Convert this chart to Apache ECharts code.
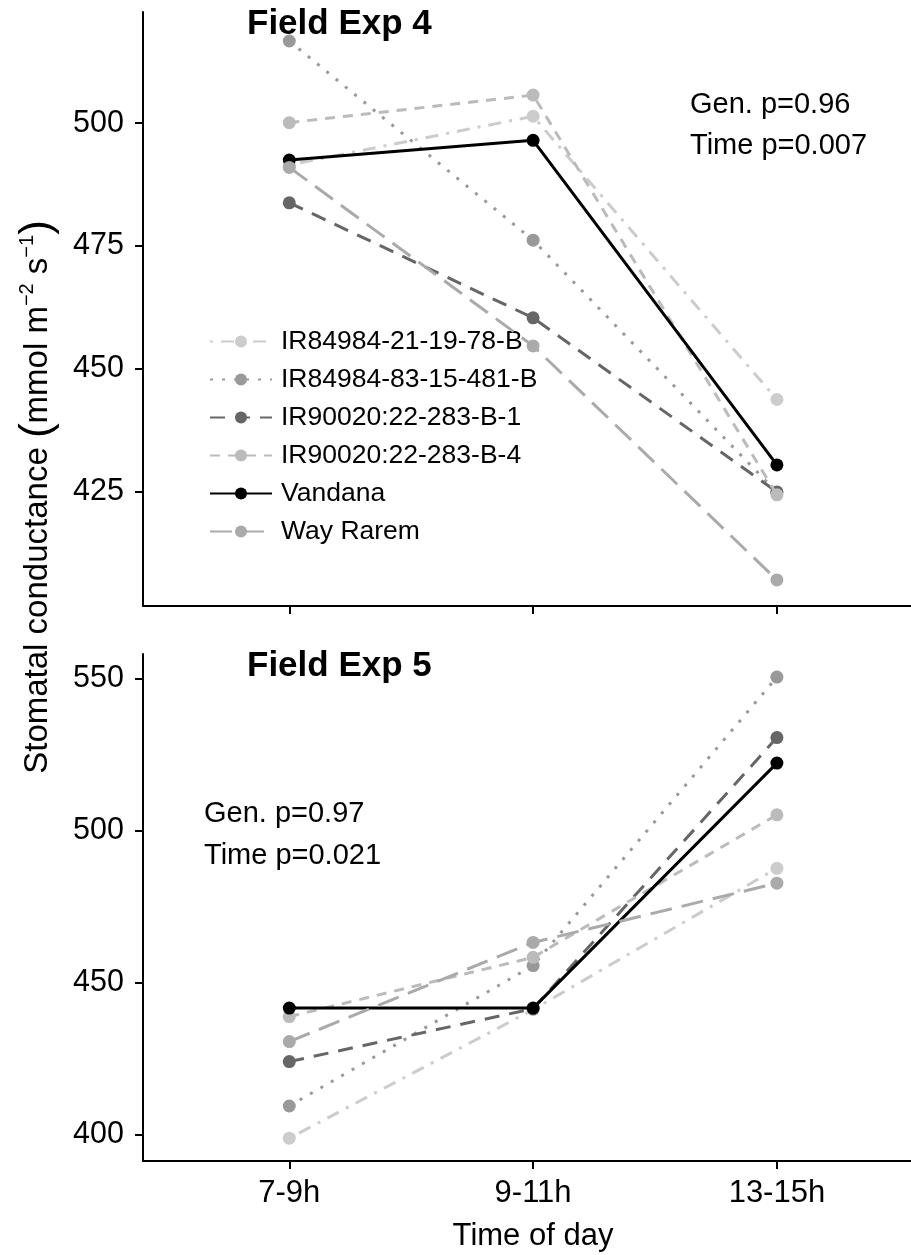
<!DOCTYPE html>
<html><head><meta charset="utf-8">
<script src="https://cdn.jsdelivr.net/npm/echarts@6/dist/echarts.min.js"></script>
<style>html,body{margin:0;padding:0;background:#fff}#c{width:911px;height:1255px}</style>
</head><body><div id="c"></div><script>
// ---- data ----
const timeLabels = ['7-9h', '9-11h', '13-15h'];
const genotypes = ['IR84984-21-19-78-B', 'IR84984-83-15-481-B', 'IR90020:22-283-B-1', 'IR90020:22-283-B-4', 'Vandana', 'Way Rarem'];
// Field Exp 4
const exp4_IR84984_21 = [491.5, 501.4, 443.8];
const exp4_IR84984_83 = [516.7, 476.2, 424.9];
const exp4_IR90020_B1 = [483.8, 460.4, 425.0];
const exp4_IR90020_B4 = [500.1, 505.7, 424.4];
const exp4_Vandana    = [492.5, 496.5, 430.5];
const exp4_WayRarem   = [491.0, 454.7, 407.1];
// Field Exp 5
const exp5_IR84984_21 = [398.9, 441.2, 487.7];
const exp5_IR84984_83 = [409.5, 455.7, 550.6];
const exp5_IR90020_B1 = [424.1, 441.5, 530.7];
const exp5_IR90020_B4 = [438.9, 458.4, 505.3];
const exp5_Vandana    = [441.7, 441.7, 522.3];
const exp5_WayRarem   = [430.7, 463.3, 482.8];
const exp4Ticks = [425, 450, 475, 500];
const exp5Ticks = [400, 450, 500, 550];
const panelTitles = ['Field Exp 4', 'Field Exp 5'];
const exp4Stats = ['Gen. p=0.96', 'Time p=0.007'];
const exp5Stats = ['Gen. p=0.97', 'Time p=0.021'];

// ---- styles ----
const FONT = "'Liberation Sans', Arial, sans-serif";
const styles = [
  {color: '#cccccc', type: [3, 8, 13, 8]},
  {color: '#999999', type: [3, 9]},
  {color: '#666666', type: [15, 10]},
  {color: '#bbbbbb', type: [10, 8]},
  {color: '#000000', type: 'solid'},
  {color: '#aaaaaa', type: [22, 10]}
];
const exp4 = [exp4_IR84984_21, exp4_IR84984_83, exp4_IR90020_B1, exp4_IR90020_B4, exp4_Vandana, exp4_WayRarem];
const exp5 = [exp5_IR84984_21, exp5_IR84984_83, exp5_IR90020_B1, exp5_IR90020_B4, exp5_Vandana, exp5_WayRarem];
const xPos = timeLabels.map((_, i) => i + 1);

const series = [];
[exp4, exp5].forEach((panel, p) => {
  panel.forEach((vals, g) => {
    series.push({
      type: 'line', name: genotypes[g], xAxisIndex: p, yAxisIndex: p,
      data: vals.map((v, i) => [xPos[i], v]),
      symbol: 'circle', symbolSize: 13, showSymbol: true,
      lineStyle: {color: styles[g].color, width: 3, type: styles[g].type},
      itemStyle: {color: styles[g].color},
      emphasis: {disabled: true}, z: 2 + g
    });
  });
});

function xAxis(idx, showLabels) {
  return {
    type: 'value', gridIndex: idx, min: 0.4, max: 3.55,
    axisLine: {show: true, onZero: false, lineStyle: {color: '#000', width: 2}},
    axisTick: {show: true, customValues: xPos, length: 8, lineStyle: {color: '#000', width: 2}},
    axisLabel: {show: showLabels, customValues: xPos, formatter: v => timeLabels[Math.round(v) - 1] || '',
      fontSize: 31, color: '#000', fontFamily: FONT, margin: 17},
    splitLine: {show: false}
  };
}
function yAxis(idx, min, max, ticks) {
  return {
    type: 'value', gridIndex: idx, min: min, max: max,
    axisLine: {show: true, lineStyle: {color: '#000', width: 2}},
    axisTick: {show: true, customValues: ticks, length: 8, lineStyle: {color: '#000', width: 2}},
    axisLabel: {customValues: ticks, fontSize: 30.5, color: '#000', fontFamily: FONT, margin: 19},
    splitLine: {show: false}
  };
}

const option = {
  animation: false,
  backgroundColor: '#fff',
  grid: [
    {left: 143, top: 12, width: 768, height: 594},
    {left: 143, top: 654, width: 768, height: 507}
  ],
  xAxis: [xAxis(0, false), xAxis(1, true)],
  yAxis: [yAxis(0, 401.8, 522.6, exp4Ticks), yAxis(1, 391.4, 558.2, exp5Ticks)],
  legend: {
    data: genotypes, orient: 'vertical', left: 204, top: 323,
    itemWidth: 62, itemHeight: 15, itemGap: 11, selectedMode: false,
    textStyle: {fontSize: 26.5, color: '#000', fontFamily: FONT, padding: [0, 0, 0, 4]}
  },
  series: series,
  graphic: [
    {type: 'text', x: 247, y: 24, style: {text: panelTitles[0], font: 'bold 35px ' + FONT, fill: '#000', verticalAlign: 'middle'}},
    {type: 'text', x: 247, y: 666, style: {text: panelTitles[1], font: 'bold 35px ' + FONT, fill: '#000', verticalAlign: 'middle'}},
    {type: 'text', x: 690, y: 105, style: {text: exp4Stats[0], font: '29px ' + FONT, fill: '#000', verticalAlign: 'middle'}},
    {type: 'text', x: 690, y: 146, style: {text: exp4Stats[1], font: '29px ' + FONT, fill: '#000', verticalAlign: 'middle'}},
    {type: 'text', x: 204, y: 814, style: {text: exp5Stats[0], font: '29px ' + FONT, fill: '#000', verticalAlign: 'middle'}},
    {type: 'text', x: 204, y: 856, style: {text: exp5Stats[1], font: '29px ' + FONT, fill: '#000', verticalAlign: 'middle'}},
    {type: 'text', x: 533, y: 1236, style: {text: 'Time of day', font: '31px ' + FONT, fill: '#000', align: 'center', verticalAlign: 'middle'}},
    {type: 'text', x: 38, y: 497, rotation: Math.PI / 2,
      style: {
        text: 'Stomatal conductance {p|(}mmol m{s|−2} s{s|−1}{p|)}',
        fontFamily: FONT, fontSize: 33, fill: '#000', align: 'center', verticalAlign: 'middle', lineHeight: 42,
        rich: {
          s: {fontSize: 20, lineHeight: 42, verticalAlign: 'top', fontFamily: FONT, fill: '#000'},
          p: {fontSize: 44, lineHeight: 42, fontFamily: FONT, fill: '#000'}
        }
      }}
  ]
};
echarts.init(document.getElementById('c'), null, {renderer: 'canvas'}).setOption(option);
</script></body></html>
